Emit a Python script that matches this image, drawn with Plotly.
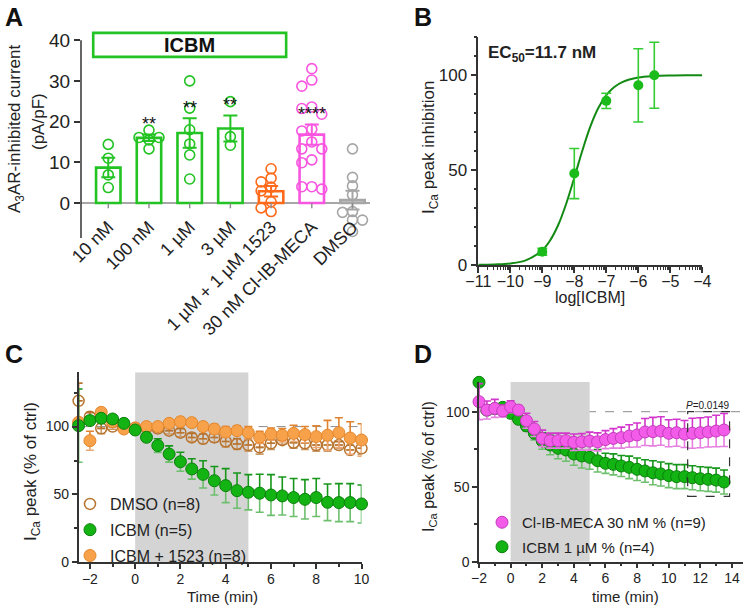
import math
import plotly.graph_objects as go

W, H = 749, 607
FONT = "Liberation Sans, Arial, sans-serif"
TXT = "#222222"
AX = "#333333"

# ---------------- Panel A data ----------------
a_labels = ["10 nM", "100 nM", "1 µM", "3 µM", "1 µM + 1 µM 1523", "30 nM Cl-IB-MECA", "DMSO"]
a_means = [8.7, 16.0, 17.2, 18.3, 2.9, 16.8, 0.7]
a_sems = [2.4, 0.8, 3.6, 3.2, 1.3, 2.5, 2.3]
a_pts_10nM = [14.4, 11.0, 6.9, 3.8]
a_pts_100nM = [17.9, 16.1, 16.1, 15.5, 13.3]
a_pts_1uM = [30.0, 23.3, 18.0, 14.5, 11.8, 5.9]
a_pts_3uM = [24.9, 16.3, 14.2]
a_pts_1523 = [8.4, 6.1, 5.2, 3.9, 3.0, 0.3, -1.2, -2.1]
a_pts_clib = [33.0, 30.2, 28.7, 23.6, 23.2, 21.8, 18.1, 17.7, 15.0, 13.3, 13.3, 10.6, 9.9, 4.0, 4.0, 3.4]
a_pts_dmso = [13.3, 6.3, 4.2, 2.0, -2.1, -2.3, -4.2, -4.2, -7.0]
a_points = [a_pts_10nM, a_pts_100nM, a_pts_1uM, a_pts_3uM, a_pts_1523, a_pts_clib, a_pts_dmso]
a_colors = ["#22c322", "#22c322", "#22c322", "#22c322", "#ff6a1a", "#f855e0", "#a6a6a6"]
a_sig = ["", "**", "**", "**", "", "****", ""]

# ---------------- Panel B data ----------------
b_logc = [-9, -8, -7, -6, -5.5]
b_mean = [7.0, 48.2, 86.5, 94.7, 100.0]
b_sem = [1.8, 13.2, 4.0, 19.3, 17.4]
b_fit_x = [-11, -10.5, -10, -9.5, -9, -8.75, -8.5, -8.25, -8, -7.75, -7.5, -7.25, -7, -6.75, -6.5, -6, -5.5, -5, -4.5, -4]
b_fit_y = [0.1, 0.3, 0.8, 2.6, 7.8, 13.1, 21.2, 32.4, 46.0, 60.2, 72.9, 82.7, 89.5, 93.8, 96.4, 98.8, 99.6, 99.9, 100.0, 100.0]

# ---------------- Panel C data ----------------
c_time = [-2.5, -2, -1.5, -1, -0.5, 0, 0.5, 1, 1.5, 2, 2.5, 3, 3.5, 4, 4.5, 5, 5.5, 6, 6.5, 7, 7.5, 8, 8.5, 9, 9.5, 10]
c_dmso = [119, 107.3, 98.7, 100, 99, 99, 99, 98.5, 97, 95.5, 92, 91, 92, 89, 87.2, 86.4, 84.7, 87.7, 90, 88.1, 87.7, 86.4, 86.4, 86.4, 82.8, 84]
c_dmso_err = [13, 3, 4, 2, 1.5, 1.5, 2, 2, 2.5, 3, 3, 3.5, 3.5, 4, 4, 4.5, 5, 4.5, 3, 4, 4.5, 4.5, 4.5, 2.5, 3.5, 4.5]
c_icbm = [100.7, 104.4, 106.1, 105.6, 102.4, 97.5, 92.1, 86, 79.8, 74.1, 68.8, 64.8, 60.1, 56.5, 52.8, 51.6, 50.9, 49.6, 48.9, 47.7, 46.4, 47.7, 44.2, 44, 44, 43]
c_icbm_err = [27, 3, 3, 2, 1.5, 1, 2, 5, 6, 7, 7.5, 10, 10.5, 12.5, 13, 13, 14, 15, 14, 14, 14.5, 14, 13.5, 14, 14, 14]
c_1523 = [103.2, 89.6, 110.5, 103.5, 98.2, 99, 100, 100, 102.4, 103.6, 102.9, 100, 98.2, 96, 97, 95.5, 92.1, 94.5, 93.6, 95, 94.1, 92.6, 93.6, 95.5, 91.6, 90.1]
c_1523_err = [3, 7, 3, 2, 1.5, 1.5, 2, 2, 2.5, 3, 3, 3, 3.5, 4, 3.5, 4.5, 4.5, 4.5, 5, 6, 6, 8, 11, 11, 12, 12]
c_names = ["DMSO (n=8)", "ICBM (n=5)", "ICBM + 1523 (n=8)"]

# ---------------- Panel D data ----------------
d_time = [-2, -1.5, -1, -0.5, 0, 0.5, 1, 1.5, 2, 2.5, 3, 3.5, 4, 4.5, 5, 5.5, 6, 6.5, 7, 7.5, 8, 8.5, 9, 9.5, 10, 10.5, 11, 11.5, 12, 12.5, 13, 13.5]
d_clib = [106.7, 101.1, 102.2, 100.5, 103.3, 101.1, 94, 88.5, 82.2, 80.7, 80.7, 80.7, 79.6, 79.9, 80.4, 79.9, 81.4, 82.2, 82.7, 83.8, 84.5, 86.5, 86.7, 87.1, 85.6, 86, 85.1, 85.6, 86, 86.5, 87.1, 87.8]
d_clib_err = [12, 6, 6, 4, 4, 3, 5, 5, 5.5, 5, 5, 5, 5.5, 5.5, 6, 6, 6, 6.5, 7, 7.5, 8, 9, 9.5, 9.5, 9, 9, 9, 10, 10, 10, 10.5, 11]
d_icbm = [119.6, 101, 102, 102.9, 98.9, 94.9, 90.5, 85.6, 80.5, 77.8, 75.6, 74.5, 71.8, 70.5, 69.6, 67.3, 65.6, 64.9, 63.8, 62.9, 61.6, 60.5, 59.3, 58.5, 57.4, 56.7, 56.7, 56, 55.3, 54.9, 54.4, 53.1]
d_icbm_err = [0, 2, 2, 2, 2, 2.5, 3.5, 4.5, 5.5, 6.5, 7, 7.5, 7.5, 8, 8, 7.5, 6.7, 7, 7, 7.5, 7.5, 7.5, 8, 8, 8, 8, 8, 8, 8, 8, 8, 8]
d_names = ["Cl-IB-MECA 30 nM % (n=9)", "ICBM 1 µM % (n=4)"]
d_pvalue = "0.0149"


def px_x(px):
    return px / W


def px_y(py):
    return 1 - py / H


def swarm_offsets(vals, step=0.245, gap=2.0):
    placed = []
    res = [0.0] * len(vals)
    order = sorted(range(len(vals)), key=lambda k: -vals[k])
    for k in order:
        chosen = 0.0
        for o in [0.0, -step, step, -2 * step, 2 * step]:
            if all(not (po == o and abs(pv - vals[k]) < gap) for po, pv in placed):
                chosen = o
                break
        placed.append((chosen, vals[k]))
        res[k] = chosen
    return res


fig = go.Figure()

# ---------------- Panel A traces ----------------
for i, (m, s, c) in enumerate(zip(a_means, a_sems, a_colors)):
    fig.add_trace(go.Bar(
        x=[i], y=[m], width=0.6, xaxis="x", yaxis="y",
        marker=dict(color="rgba(255,255,255,0)", line=dict(color=c, width=2.6)),
        error_y=dict(type="data", array=[s], color=c, thickness=2, width=7),
        showlegend=False))
for i, (pts, c) in enumerate(zip(a_points, a_colors)):
    offs = swarm_offsets(pts)
    fig.add_trace(go.Scatter(
        x=[i + o for o in offs], y=pts, mode="markers", xaxis="x", yaxis="y",
        marker=dict(symbol="circle-open", size=10, color=c, line=dict(width=1.6)),
        cliponaxis=False, showlegend=False))

# ---------------- Panel B traces ----------------
fig.add_trace(go.Scatter(
    x=b_fit_x, y=b_fit_y, mode="lines", line=dict(color="#138a13", width=2, shape="spline"),
    xaxis="x2", yaxis="y2", showlegend=False, cliponaxis=False))
fig.add_trace(go.Scatter(
    x=b_logc, y=b_mean, mode="markers", xaxis="x2", yaxis="y2",
    marker=dict(size=10, color="#1cbb1c"),
    error_y=dict(type="data", array=b_sem, color="#33cc33", thickness=1.6, width=5),
    showlegend=False, cliponaxis=False))


# ---------------- Panel C / D helper ----------------
def add_series(x, y, err, xa, ya, name, legend, rank, marker, up_col, lo_col):
    n = len(err)
    fig.add_trace(go.Scatter(
        x=x, y=y, mode="markers", xaxis=xa, yaxis=ya, showlegend=False,
        marker=dict(size=1, color="rgba(0,0,0,0)"),
        error_y=dict(type="data", symmetric=False, array=[0] * n, arrayminus=err,
                     color=lo_col, thickness=1.6, width=4),
        cliponaxis=False, hoverinfo="skip"))
    fig.add_trace(go.Scatter(
        x=x, y=y, mode="markers", xaxis=xa, yaxis=ya, name=name, legend=legend,
        legendgroup=name, legendrank=rank, marker=marker,
        error_y=dict(type="data", symmetric=False, array=err, arrayminus=[0] * n,
                     color=up_col, thickness=1.6, width=4),
        cliponaxis=False))


add_series(c_time, c_dmso, c_dmso_err, "x3", "y3", c_names[0], "legend", 1,
           dict(symbol="circle-open", size=11, color="#b8742f", line=dict(width=1.5)),
           "#b8742f", "#c99a6a")
add_series(c_time, c_1523, c_1523_err, "x3", "y3", c_names[2], "legend", 3,
           dict(symbol="circle", size=12, color="#f7a24a", line=dict(color="#e5862a", width=1)),
           "#df8330", "#eba874")
add_series(c_time, c_icbm, c_icbm_err, "x3", "y3", c_names[1], "legend", 2,
           dict(symbol="circle", size=12, color="#12b312", line=dict(color="#0b800b", width=1)),
           "#16961a", "#6dbf6d")

add_series(d_time, d_icbm, d_icbm_err, "x4", "y4", d_names[1], "legend2", 2,
           dict(symbol="circle", size=12, color="#12b312", line=dict(color="#0b800b", width=1)),
           "#16961a", "#6dbf6d")
add_series(d_time, d_clib, d_clib_err, "x4", "y4", d_names[0], "legend2", 1,
           dict(symbol="circle", size=12, color="#f25ce8", line=dict(color="#c43bbd", width=1)),
           "#d336cc", "#e57fe0")

# ---------------- Shapes ----------------
shapes = []
# Panel A axis lines
shapes.append(dict(type="line", xref="x domain", yref="y", x0=0, x1=0, y0=-8.6, y1=40,
                   line=dict(color=AX, width=1.5)))
shapes.append(dict(type="line", xref="x domain", yref="y", x0=0, x1=1, y0=0, y1=0,
                   line=dict(color="#8a8a8a", width=1.6), layer="below"))
for i in range(len(a_labels)):
    shapes.append(dict(type="line", xref="x", yref="y", x0=i, x1=i, y0=0, y1=-1.3,
                       line=dict(color="#8a8a8a", width=1.4)))
shapes.append(dict(type="rect", xref="x", yref="y", x0=-0.37, x1=4.37, y0=35.9, y1=41.8,
                   line=dict(color="#22c322", width=2.6)))
# Panel C
shapes.append(dict(type="rect", xref="x3", yref="y3", x0=0, x1=5, y0=0, y1=140,
                   fillcolor="#d4d4d4", line=dict(width=0), layer="below"))
shapes.append(dict(type="line", xref="x3 domain", yref="y3", x0=0, x1=1, y0=100, y1=100,
                   line=dict(color="#8c8c8c", width=1, dash="dash"), layer="below"))
# Panel D
shapes.append(dict(type="rect", xref="x4", yref="y4", x0=0, x1=5, y0=0, y1=120,
                   fillcolor="#d4d4d4", line=dict(width=0), layer="below"))
shapes.append(dict(type="line", xref="x4 domain", yref="y4", x0=0, x1=1, y0=100, y1=100,
                   line=dict(color="#8c8c8c", width=1, dash="dash"), layer="below"))
shapes.append(dict(type="rect", xref="x4", yref="y4", x0=11.2, x1=13.85, y0=43.5, y1=100,
                   line=dict(color="#333333", width=1.2, dash="dash")))

# ---------------- Annotations ----------------
ann = []


def letter(t, x, y):
    ann.append(dict(text=f"<b>{t}</b>", x=px_x(x), y=px_y(y), xref="paper", yref="paper",
                    xanchor="left", yanchor="top", showarrow=False,
                    font=dict(size=25, color="#111", family=FONT)))


def paper_text(t, x, y, size, angle=0, xanchor="center", yanchor="middle"):
    ann.append(dict(text=t, x=px_x(x), y=px_y(y), xref="paper", yref="paper", showarrow=False,
                    textangle=angle, xanchor=xanchor, yanchor=yanchor,
                    font=dict(size=size, color=TXT, family=FONT)))


letter("A", 3, 1)
letter("B", 412, 1)
letter("C", 3, 338)
letter("D", 412, 338)

# Panel A
ann.append(dict(text="<b>ICBM</b>", x=2, y=38.85, xref="x", yref="y", showarrow=False,
                xanchor="center", yanchor="middle",
                font=dict(size=20, color="#111", family=FONT)))
for i, s in enumerate(a_sig):
    if s:
        ann.append(dict(text=s, x=i, y=a_means[i] + a_sems[i] + 2.6, xref="x", yref="y",
                        showarrow=False, xanchor="center", yanchor="middle",
                        font=dict(size=18, color="#111", family=FONT)))
paper_text("A<sub>3</sub>AR-inhibited current", 16, 129, 17, -90)
paper_text("(pA/pF)", 38, 122, 17, -90)
# Panel B
paper_text("<b>EC<sub>50</sub>=11.7 nM</b>", 486, 54, 17, 0, xanchor="left")
paper_text("I<sub>Ca</sub> peak inhibition", 430, 148, 17, -90)
paper_text("log[ICBM]", 590, 297, 16)
# Panel C
paper_text("I<sub>Ca</sub> peak (% of ctrl)", 32, 472, 17, -90)
paper_text("Time (min)", 222, 596, 15)
# Panel D
paper_text("I<sub>Ca</sub> peak (% of ctrl)", 430, 467, 16, -90)
paper_text("time (min)", 625, 596, 15)
ann.append(dict(text=f"<i>P</i>={d_pvalue}", x=12.5, y=100, xref="x4", yref="y4",
                xanchor="center", yanchor="bottom", showarrow=False, yshift=-1,
                font=dict(size=10, color=TXT, family=FONT)))

# ---------------- Axes ----------------
log_minor = [d + math.log10(k) for d in range(-11, -4) for k in range(2, 10)]

common = dict(showgrid=False, zeroline=False, linecolor=AX, linewidth=1.5, tickcolor=AX,
              tickwidth=1.5, ticks="outside", automargin=False)

fig.update_layout(
    width=W, height=H, margin=dict(l=0, r=0, t=0, b=0, autoexpand=False),
    paper_bgcolor="white", plot_bgcolor="rgba(0,0,0,0)",
    font=dict(family=FONT, color=TXT),
    barmode="overlay", shapes=shapes, annotations=ann,
    xaxis=dict(domain=[px_x(81), px_x(370)], range=[-0.67, 6.43], anchor="free",
               position=px_y(212), tickmode="array", tickvals=list(range(len(a_labels))),
               ticktext=a_labels, tickangle=-45, showline=False, ticks="", showgrid=False,
               zeroline=False, automargin=False, tickfont=dict(size=18, color=TXT)),
    yaxis=dict(domain=[px_y(238), px_y(30)], range=[-8.6, 42.5], anchor="x",
               tickmode="array", tickvals=[0, 10, 20, 30, 40], showline=False,
               showgrid=False, zeroline=False, ticks="outside", ticklen=6, tickwidth=1.5,
               automargin=False, tickcolor=AX, tickfont=dict(size=19, color=TXT)),
    xaxis2=dict(domain=[px_x(478.3), px_x(702.3)], range=[-11, -4], anchor="y2",
                tickmode="array", tickvals=list(range(-11, -3)), showline=True, ticklen=6,
                ticklabelstandoff=-5,
                minor=dict(tickmode="array", tickvals=log_minor, ticks="outside", ticklen=3,
                           tickcolor=AX, tickwidth=1),
                tickfont=dict(size=16, color=TXT), **common),
    yaxis2=dict(domain=[px_y(265), px_y(37.3)], range=[0, 120], anchor="x2",
                tickmode="array", tickvals=[0, 50, 100], showline=True, ticklen=6,
                minor=dict(dtick=10, tick0=0, ticks="outside", ticklen=3, tickcolor=AX),
                tickfont=dict(size=17, color=TXT), **common),
    xaxis3=dict(domain=[px_x(78.6), px_x(361.5)], range=[-2.5, 10], anchor="y3",
                tickmode="array", tickvals=list(range(-2, 11, 2)), showline=True, ticklen=5,
                ticklabelstandoff=-2,
                minor=dict(dtick=1, tick0=0, ticks="outside", ticklen=3, tickcolor=AX),
                tickfont=dict(size=14, color=TXT), **common),
    yaxis3=dict(domain=[px_y(562.3), px_y(372.3)], range=[0, 140], anchor="x3",
                tickmode="array", tickvals=[0, 50, 100], showline=True, ticklen=5,
                minor=dict(dtick=25, tick0=0, ticks="outside", ticklen=3, tickcolor=AX),
                tickfont=dict(size=14, color=TXT), **common),
    xaxis4=dict(domain=[px_x(479), px_x(743)], range=[-2, 14.7], anchor="y4",
                tickmode="array", tickvals=list(range(-2, 15, 2)), showline=True, ticklen=5,
                ticklabelstandoff=-2,
                minor=dict(dtick=1, tick0=0, ticks="outside", ticklen=3, tickcolor=AX),
                tickfont=dict(size=14, color=TXT), **common),
    yaxis4=dict(domain=[px_y(561.7), px_y(381.7)], range=[0, 120], anchor="x4",
                tickmode="array", tickvals=[0, 50, 100], showline=True, ticklen=5,
                minor=dict(dtick=25, tick0=0, ticks="outside", ticklen=3, tickcolor=AX),
                tickfont=dict(size=14, color=TXT), **common),
    legend=dict(x=px_x(70), y=px_y(487), xanchor="left", yanchor="top",
                bgcolor="rgba(0,0,0,0)", font=dict(size=16, color=TXT, family=FONT),
                tracegroupgap=2, itemwidth=30),
    legend2=dict(x=px_x(482), y=px_y(506), xanchor="left", yanchor="top",
                 bgcolor="rgba(0,0,0,0)", font=dict(size=15, color=TXT, family=FONT),
                 tracegroupgap=2, itemwidth=30),
)

fig.write_html("out.html", config={"displayModeBar": False},
               post_script="document.body.style.margin='0px';document.body.style.padding='0px';")
